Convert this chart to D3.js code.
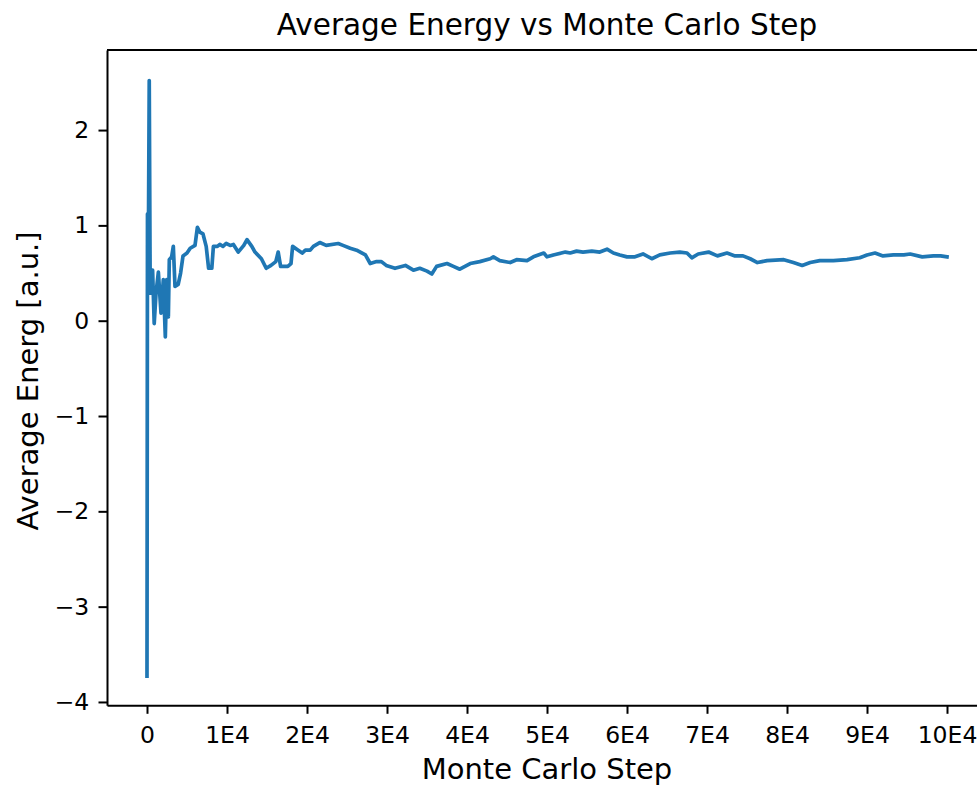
<!DOCTYPE html>
<html>
<head>
<meta charset="utf-8">
<script src="https://cdn.jsdelivr.net/npm/d3@7"></script>
<style>
  html, body { margin: 0; padding: 0; background: #fff; }
  svg { display: block; }
  text { font-family: "DejaVu Sans", sans-serif; fill: #000; }
</style>
</head>
<body>
<svg id="chart" width="977" height="785"></svg>
<script>
// ---- data ----
const steps = [
  0, 60, 150, 280, 400, 500, 700, 900, 1130, 1420, 1750, 2040, 2290, 2460, 2670, 2790,
  3080, 3290, 3500, 3900, 4200, 4500, 5000, 5400, 6000, 6300, 6600, 7000, 7400, 7700,
  8100, 8300, 8800, 9100, 9500, 9900, 10400, 10800, 11400, 12100, 12500, 13100, 13500,
  14300, 14900, 15500, 16100, 16400, 16700, 17600, 18000, 18200, 18900, 19400, 19800,
  20400, 20800, 21600, 22400, 23900, 24500, 25400, 26200, 27300, 27900, 28700, 29300,
  29900, 31000, 32300, 33300, 34100, 35000, 35600, 36200, 37500, 38300, 39100, 40400,
  41600, 42900, 43300, 44100, 45400, 46200, 47500, 48300, 49600, 50000, 50800, 52300,
  52900, 53700, 54500, 55600, 56600, 57500, 58300, 59100, 60000, 61000, 62000, 63100,
  64100, 65400, 66600, 67500, 68100, 68900, 70200, 71300, 72500, 73500, 74500, 75400,
  76300, 77500, 79600, 80800, 81900, 82900, 84100, 85800, 87500, 89100, 90000, 91000,
  92000, 93300, 94600, 95400, 96900, 98300, 99200, 100000
];
const energies = [
  -3.73, 1.12, 0.45, 2.52, 0.29, 0.50, 0.53, -0.03, 0.29, 0.51, 0.08, 0.43, -0.17, 0.43, 0.04, 0.64,
  0.67, 0.78, 0.36, 0.38, 0.50, 0.68, 0.71, 0.76, 0.79, 0.98, 0.93, 0.91, 0.78, 0.55,
  0.55, 0.78, 0.78, 0.80, 0.78, 0.81, 0.79, 0.80, 0.72, 0.79, 0.85, 0.78, 0.72,
  0.65, 0.55, 0.58, 0.62, 0.72, 0.57, 0.57, 0.60, 0.78, 0.74, 0.71, 0.74,
  0.74, 0.78, 0.82, 0.79, 0.81, 0.79, 0.76, 0.74, 0.69, 0.60, 0.62, 0.62,
  0.58, 0.55, 0.58, 0.53, 0.55, 0.52, 0.49, 0.57, 0.60, 0.57, 0.54, 0.60,
  0.62, 0.65, 0.67, 0.63, 0.61, 0.64, 0.63, 0.67, 0.71, 0.67, 0.69, 0.72,
  0.71, 0.73, 0.72, 0.73, 0.72, 0.75, 0.71, 0.69, 0.67, 0.67, 0.70, 0.65,
  0.69, 0.71, 0.72, 0.71, 0.66, 0.70, 0.72, 0.68, 0.71, 0.68, 0.68, 0.65,
  0.61, 0.63, 0.64, 0.61, 0.58, 0.61, 0.63, 0.63, 0.64, 0.66, 0.69, 0.71,
  0.68, 0.69, 0.69, 0.70, 0.67, 0.68, 0.68, 0.67
];
const xTicks = [0, 10000, 20000, 30000, 40000, 50000, 60000, 70000, 80000, 90000, 100000];
const xTickLabels = ["0", "1E4", "2E4", "3E4", "4E4", "5E4", "6E4", "7E4", "8E4", "9E4", "10E4"];
const yTicks = [-4, -3, -2, -1, 0, 1, 2];
const titleText = "Average Energy vs Monte Carlo Step";
const xLabelText = "Monte Carlo Step";
const yLabelText = "Average Energ [a.u.]";

// ---- layout ----
const L = 107, R = 987, T = 50, B = 705.3;
const svg = d3.select("#chart");

const x = d3.scaleLinear().domain([-5000, 105000]).range([L, R]);
const y = d3.scaleLinear().domain([-4.035, 2.84]).range([B, T]);

const data = steps.map((s, i) => ({ s, v: energies[i] }));

// line
const line = d3.line().x(d => x(d.s)).y(d => y(d.v));
svg.append("path")
  .datum(data)
  .attr("d", line)
  .attr("fill", "none")
  .attr("stroke", "#1f77b4")
  .attr("stroke-width", 3.7)
  .attr("stroke-linejoin", "round")
  .attr("stroke-linecap", "square");

// axes
const xAxis = d3.axisBottom(x)
  .tickValues(xTicks)
  .tickFormat((d, i) => xTickLabels[i])
  .tickSize(8.5)
  .tickSizeOuter(0)
  .tickPadding(12.5);
const gx = svg.append("g").attr("transform", `translate(0,${B})`).call(xAxis);

const yAxis = d3.axisLeft(y)
  .tickValues(yTicks)
  .tickFormat(d => (d < 0 ? "\u2212" + Math.abs(d) : String(d)))
  .tickSize(8.5)
  .tickSizeOuter(0)
  .tickPadding(9.2);
const gy = svg.append("g").attr("transform", `translate(${L},0)`).call(yAxis);

[gx, gy].forEach(g => {
  g.selectAll("path.domain").attr("stroke", "#000").attr("stroke-width", 2);
  g.selectAll(".tick line").attr("stroke", "#000").attr("stroke-width", 2);
  g.selectAll(".tick text")
    .attr("fill", "#000")
    .style("font-family", "'DejaVu Sans', sans-serif")
    .style("font-size", "23.5px");
});

// top & right spines
svg.append("line").attr("x1", L).attr("x2", R).attr("y1", T).attr("y2", T)
  .attr("stroke", "#000").attr("stroke-width", 2);
svg.append("line").attr("x1", R).attr("x2", R).attr("y1", T).attr("y2", B)
  .attr("stroke", "#000").attr("stroke-width", 2);

// title
svg.append("text")
  .attr("x", (L + R) / 2)
  .attr("y", 35)
  .attr("text-anchor", "middle")
  .style("font-size", "29.5px")
  .text(titleText);

// x label
svg.append("text")
  .attr("x", (L + R) / 2)
  .attr("y", 779)
  .attr("text-anchor", "middle")
  .style("font-size", "29px")
  .text(xLabelText);

// y label
svg.append("text")
  .attr("transform", `translate(37.5,${381}) rotate(-90)`)
  .attr("text-anchor", "middle")
  .style("font-size", "29px")
  .text(yLabelText);
</script>
</body>
</html>
